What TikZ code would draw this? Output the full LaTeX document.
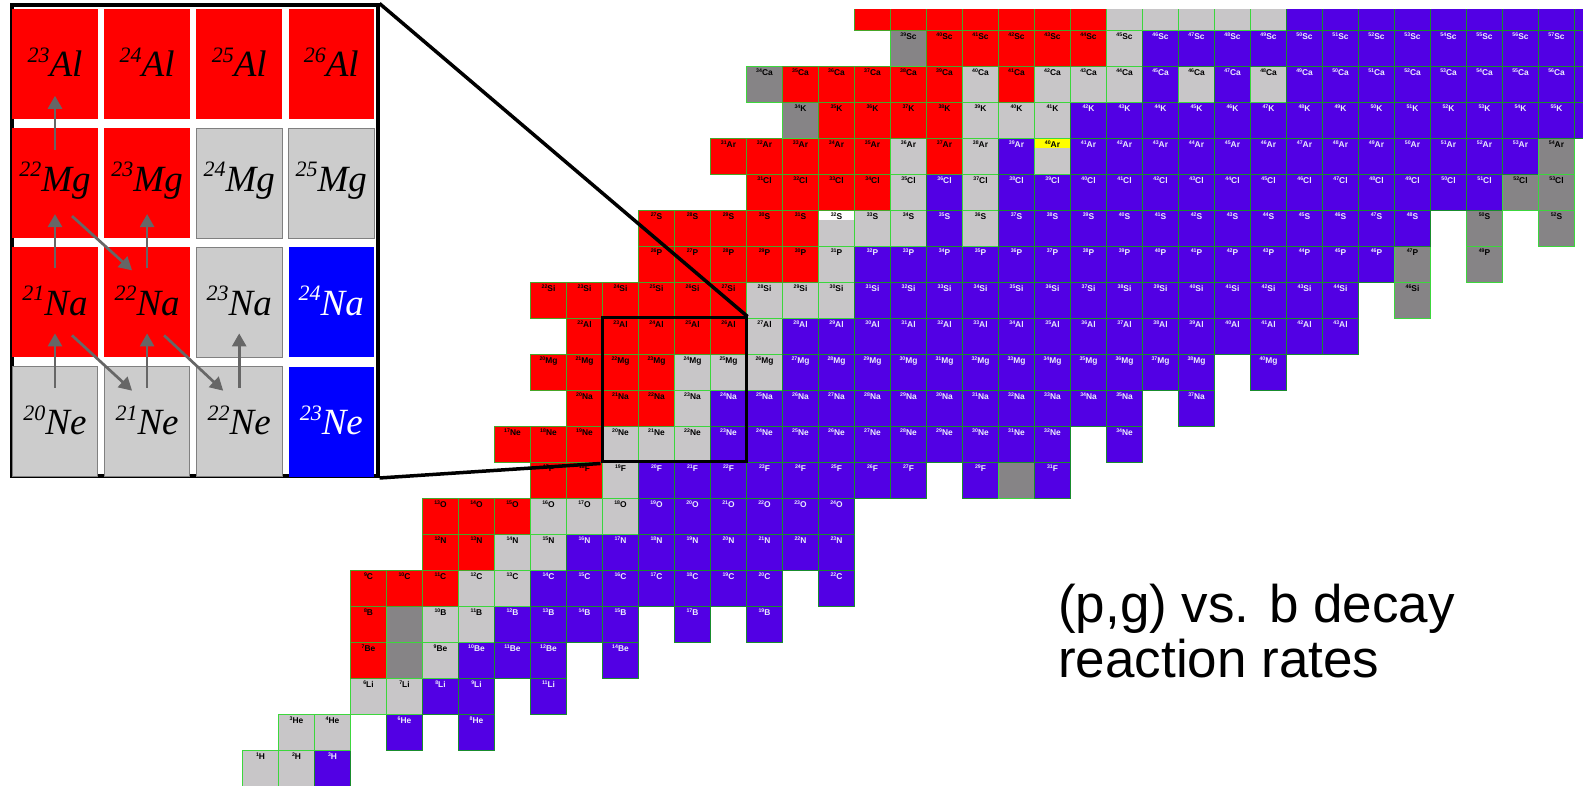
\documentclass[tikz,border=0pt]{standalone}
\usepackage{fontspec}
\setmainfont{Liberation Serif}
\setsansfont{Liberation Sans}
\usepackage{graphicx}
\usetikzlibrary{arrows.meta,fit,calc}

% chart colours
\definecolor{nred}{RGB}{255,0,0}
\definecolor{nstable}{RGB}{200,198,200}
\definecolor{ndark}{RGB}{134,132,134}
\definecolor{npurple}{RGB}{82,0,228}
\definecolor{gridred}{RGB}{70,165,40}
\definecolor{gridlight}{RGB}{60,215,60}
\definecolor{gridpurple}{RGB}{25,140,45}
\definecolor{nyellow}{RGB}{255,255,0}
\definecolor{lblwhite}{RGB}{235,235,255}
% inset colours
\definecolor{iblue}{RGB}{0,0,255}
\definecolor{igrey}{RGB}{204,204,204}
\definecolor{iborder}{RGB}{128,128,128}
\definecolor{arrowgrey}{RGB}{102,102,102}

\tikzset{
  cellbox/.style={minimum width=36pt, minimum height=36pt, inner sep=0pt,
    outer sep=0pt, anchor=south west, line width=0.9pt},
  kind r/.style={fill=nred, draw=gridred},
  kind g/.style={fill=nstable, draw=gridlight},
  kind d/.style={fill=ndark, draw=gridlight},
  kind dx/.style={fill=ndark, draw=gridlight},
  kind p/.style={fill=npurple, draw=gridpurple},
  kind w/.style={fill=nstable, draw=gridlight, path picture={
      \fill[white] ([yshift=-10pt]path picture bounding box.north west)
        rectangle (path picture bounding box.north east);}},
  kind y/.style={fill=nstable, draw=gridlight, path picture={
      \fill[nyellow] ([yshift=-10pt]path picture bounding box.north west)
        rectangle (path picture bounding box.north east);}},
  nlabel/.style={anchor=base, inner sep=0pt, font=\sffamily\bfseries},
  ktxt r/.style={text=black},
  ktxt g/.style={text=black},
  ktxt d/.style={text=black},
  ktxt p/.style={text=lblwhite},
  ktxt w/.style={text=black},
  ktxt y/.style={text=black},
  icell/.style={minimum width=85.5pt, minimum height=110pt, inner sep=0pt,
    outer sep=0pt, font=\fontsize{37}{37}\selectfont\itshape,
    text height=26pt, text depth=0pt},
  ired/.style={icell, fill=nred},
  igrey/.style={icell, fill=igrey, draw=iborder, line width=0.8pt},
  iblue/.style={icell, fill=iblue, text=white},
  mgrow/.style={text depth=9.2pt},
  parrow/.style={draw=arrowgrey, line width=2.7pt,
    -{Triangle[length=13pt,width=14pt]}},
  zoomline/.style={draw=black, line width=3.5pt},
  caption/.style={anchor=base west, inner sep=0pt,
    font=\sffamily\fontsize{53}{53}\selectfont},
}

\def\kindnolabel{dx}
% one nuclide: #1 = N, #2 = Z, #3 = symbol, #4 = kind
\newcommand\chartcell[4]{%
  \pgfmathtruncatemacro\massnum{#1+#2}%
  \node[cellbox, kind #4] (c#1-#2) at ({242+36*#1},{36*(#2-1)}) {};
  \edef\kcur{#4}%
  \ifx\kcur\kindnolabel\else
    \ifnum#2<22 \ifnum#1<37
      \node[nlabel, ktxt #4] (l#1-#2) at ({260.5+36*#1},{36*#2-9.3})
        {{\fontsize{5.2}{5}\selectfont\raisebox{2.8pt}{\massnum}}{\fontsize{8.4}{9}\selectfont #3}};
    \fi\fi
  \fi
}
% one row of the chart: #1 = Z, #2 = symbol, #3 = runs first/last/kind
\newcommand\chartrow[3]{%
  \foreach \ra/\rb/\rk in {#3}{%
    \foreach \rn in {\ra,...,\rb}{%
      \edef\cellcall{\noexpand\chartcell{\rn}{#1}{#2}{\rk}}\cellcall
    }%
  }%
}
% inset label with mass number
\newcommand\isot[2]{{\fontsize{22}{22}\selectfont\raisebox{14.5pt}{#1}}#2}

\begin{document}
\begin{tikzpicture}[x=1pt,y=1pt]
\fill[white] (0,0) rectangle (1583,786);
\useasboundingbox (0,0) rectangle (1583,786);

% ---------------- chart of nuclides ----------------
\begin{scope}
\clip (0,0) rectangle (1583,776);
\chartrow{1}{H}{0/1/g,2/2/p}
\chartrow{2}{He}{1/2/g,4/4/p,6/6/p}
\chartrow{3}{Li}{3/4/g,5/6/p,8/8/p}
\chartrow{4}{Be}{3/3/r,4/4/dx,5/5/g,6/8/p,10/10/p}
\chartrow{5}{B}{3/3/r,4/4/dx,5/6/g,7/10/p,12/12/p,14/14/p}
\chartrow{6}{C}{3/5/r,6/7/g,8/14/p,16/16/p}
\chartrow{7}{N}{5/6/r,7/8/g,9/16/p}
\chartrow{8}{O}{5/7/r,8/10/g,11/16/p}
\chartrow{9}{F}{8/9/r,10/10/g,11/18/p,20/20/p,21/21/dx,22/22/p}
\chartrow{10}{Ne}{7/9/r,10/12/g,13/22/p,24/24/p}
\chartrow{11}{Na}{9/11/r,12/12/g,13/24/p,26/26/p}
\chartrow{12}{Mg}{8/11/r,12/14/g,15/26/p,28/28/p}
\chartrow{13}{Al}{9/13/r,14/14/g,15/30/p}
\chartrow{14}{Si}{8/13/r,14/16/g,17/30/p,32/32/d}
\chartrow{15}{P}{11/15/r,16/16/g,17/31/p,32/32/d,34/34/d}
\chartrow{16}{S}{11/15/r,16/16/w,17/18/g,19/19/p,20/20/g,21/32/p,34/34/d,36/36/d}
\chartrow{17}{Cl}{14/17/r,18/18/g,19/19/p,20/20/g,21/34/p,35/36/d}
\chartrow{18}{Ar}{13/17/r,18/18/g,19/19/r,20/20/g,21/21/p,22/22/y,23/35/p,36/36/d}
\chartrow{19}{K}{15/15/d,16/19/r,20/22/g,23/37/p}
\chartrow{20}{Ca}{14/14/d,15/19/r,20/20/g,21/21/r,22/24/g,25/25/p,26/26/g,27/27/p,28/28/g,29/37/p}
\chartrow{21}{Sc}{18/18/d,19/23/r,24/24/g,25/37/p}
\chartrow{22}{Ti}{17/23/r,24/28/g,29/37/p}
\end{scope}

% region shown enlarged
\node[draw=black, line width=3pt, inner sep=0pt, fit=(c10-10)(c13-13)] (zbox) {};

% ---------------- enlarged inset ----------------
\node[draw=black, line width=3.5pt, fill=white, minimum width=366pt,
  minimum height=471pt, inner sep=0pt, anchor=south west] (frame) at (10,308) {};

\node[ired] (al23) at (55,722.2) {\isot{23}{Al}};
\node[ired] (al24) at (147.1,722.2) {\isot{24}{Al}};
\node[ired] (al25) at (239.2,722.2) {\isot{25}{Al}};
\node[ired] (al26) at (331.3,722.2) {\isot{26}{Al}};

\node[ired, mgrow] (mg22) at (55,602.9) {\isot{22}{Mg}};
\node[ired, mgrow] (mg23) at (147.1,602.9) {\isot{23}{Mg}};
\node[igrey, mgrow] (mg24) at (239.2,602.9) {\isot{24}{Mg}};
\node[igrey, mgrow] (mg25) at (331.3,602.9) {\isot{25}{Mg}};

\node[ired] (na21) at (55,483.6) {\isot{21}{Na}};
\node[ired] (na22) at (147.1,483.6) {\isot{22}{Na}};
\node[igrey] (na23) at (239.2,483.6) {\isot{23}{Na}};
\node[iblue] (na24) at (331.3,483.6) {\isot{24}{Na}};

\node[igrey] (ne20) at (55,364.3) {\isot{20}{Ne}};
\node[igrey] (ne21) at (147.1,364.3) {\isot{21}{Ne}};
\node[igrey] (ne22) at (239.2,364.3) {\isot{22}{Ne}};
\node[iblue] (ne23) at (331.3,364.3) {\isot{23}{Ne}};

% proton captures
\draw[parrow] ([yshift=-21pt]ne20.north) -- ([yshift=24pt]na21.south);
\draw[parrow] ([yshift=-21pt]na21.north) -- ([yshift=24pt]mg22.south);
\draw[parrow] ([yshift=-22pt]mg22.north) -- ([yshift=23pt]al23.south);
\draw[parrow] ([yshift=-21pt]ne21.north) -- ([yshift=24pt]na22.south);
\draw[parrow] ([yshift=-21pt]na22.north) -- ([yshift=24pt]mg23.south);
\draw[parrow] ([yshift=-21pt]ne22.north) -- ([yshift=24pt]na23.south);
% beta decays
\draw[parrow] ([xshift=17pt,yshift=22pt]na21.south) -- ([xshift=-15pt,yshift=-24pt]ne21.north);
\draw[parrow] ([xshift=17pt,yshift=22pt]mg22.south) -- ([xshift=-15pt,yshift=-23pt]na22.north);
\draw[parrow] ([xshift=17pt,yshift=22pt]na22.south) -- ([xshift=-16pt,yshift=-24pt]ne22.north);

% zoom connectors
\draw[zoomline] (frame.north east) -- (zbox.north east);
\draw[zoomline] (frame.south east) -- (zbox.south west);

% caption
\node[caption] (cap1) at (1058,163) {(p,g) vs. b decay};
\node[caption] (cap2) at (1058,108) {reaction rates};
\end{tikzpicture}
\end{document}
